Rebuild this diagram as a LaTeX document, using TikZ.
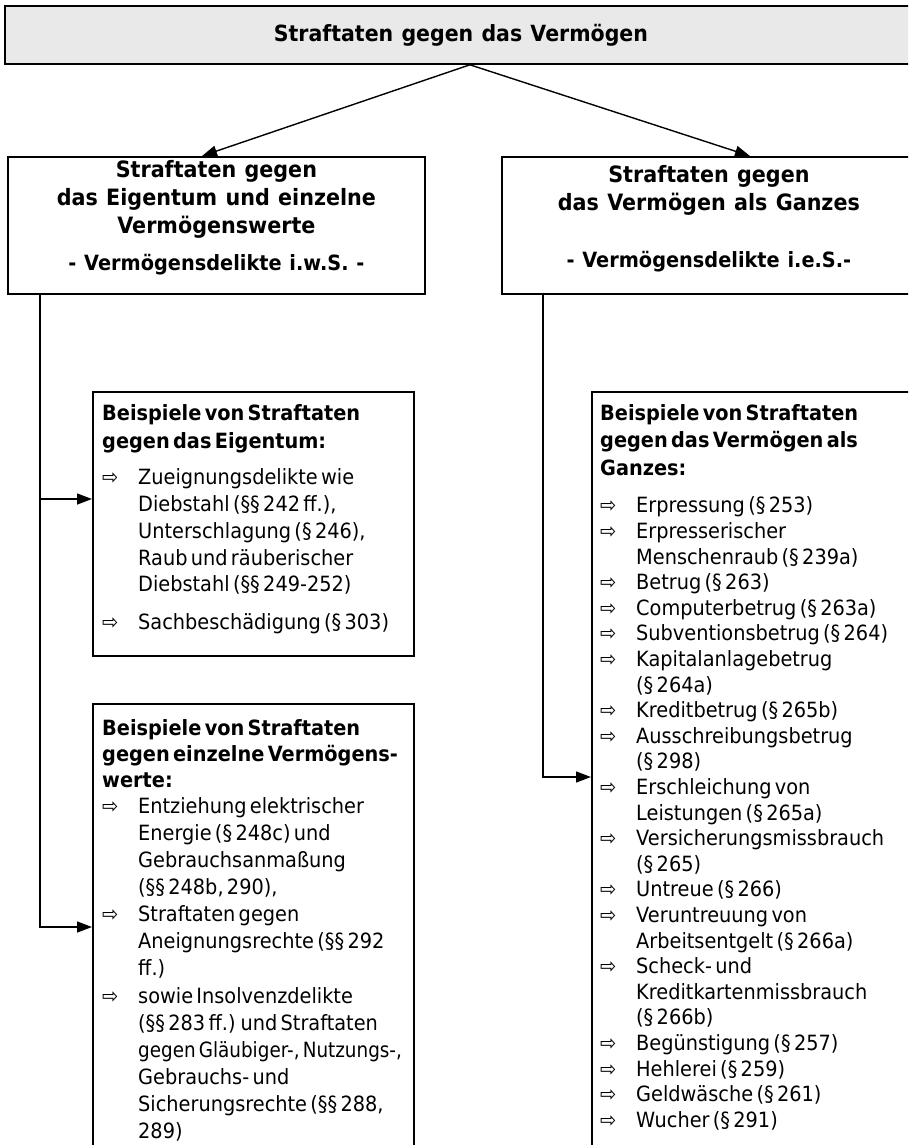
\documentclass[tikz,border=0pt]{standalone}
\usepackage{fontspec}
\setmainfont{DejaVu Sans}[FakeStretch=0.92,WordSpace=1.15]
\usepackage{graphicx}
\usepackage{tikz}
\usetikzlibrary{calc,positioning,arrows.meta}

\definecolor{titlegray}{RGB}{233,233,233}

% list item with the outlined arrow and a hanging indent
\newcommand{\itm}[1]{\par\noindent\hangindent=36pt\hangafter=1%
  \makebox[36pt][l]{\fontsize{21}{21}\selectfont ⇨}#1}
\newcommand{\exhead}[1]{{\bfseries\rule{0pt}{16pt}#1\par}}
\newcommand{\subline}[1]{{\fontsize{21}{28}\selectfont #1}}

\begin{document}
\begin{tikzpicture}[x=1pt,y=-1pt,
  box/.style={draw,line width=1.8pt,anchor=north west,inner sep=0pt},
  cattext/.style={inner sep=0pt,align=center,font=\bfseries\fontsize{22.5}{28}\selectfont},
  extext/.style={inner sep=0pt,anchor=north west,text width=340pt},
  conn/.style={line width=1.4pt,-{Triangle[length=15pt,width=11pt]}}]
  \useasboundingbox (0,0) rectangle (908,1145);
  \clip (0,0) rectangle (908,1145);

  % boxes
  \node[box,fill=titlegray,minimum width=912pt,minimum height=58pt,
    font=\bfseries\fontsize{22.3}{25}\selectfont] (top) at (4,5) {Straftaten gegen das Vermögen};
  \node[box,minimum width=417pt,minimum height=137pt] (catl) at (7,156) {};
  \node[box,minimum width=414pt,minimum height=137pt] (catr) at (501,156) {};
  \node[box,minimum width=321pt,minimum height=264pt] (exa) at (92,391) {};
  \node[box,minimum width=321pt,minimum height=480pt] (exb) at (92,703) {};
  \node[box,minimum width=324pt,minimum height=800pt] (exc) at (591,391) {};

  % texts
  \node[cattext,below=4pt of catl.north] (catltxt) {\rule{0pt}{17pt}Straftaten gegen\\das Eigentum und einzelne\\Vermögenswerte\\[9pt]\subline{- Vermögensdelikte i.w.S. -}};
  \node[cattext,below=9pt of catr.north] (catrtxt) {\rule{0pt}{17pt}Straftaten gegen\\das Vermögen als Ganzes\\[29pt]\subline{- Vermögensdelikte i.e.S.-}};

  \node[extext,below right=13pt and 10pt of exa.north west] (exatxt) {%
    \fontsize{21}{28}\selectfont
    \exhead{Beispiele von Straftaten\newline gegen das Eigentum:}
    \vspace{10pt}\fontsize{21}{26.75}\selectfont
    \itm{Zueignungsdelikte wie\newline Diebstahl (§§ 242 ff.),\newline Unterschlagung (§ 246),\newline Raub und räuberischer\newline Diebstahl (§§ 249-252)}\par
    \vspace{11pt}
    \itm{Sachbeschädigung (§ 303)}\par};

  \node[extext,below right=16pt and 10pt of exb.north west] (exbtxt) {%
    \fontsize{21}{26}\selectfont
    \exhead{Beispiele von Straftaten\newline gegen einzelne Vermögens-\newline werte:}
    \vspace{-1pt}\fontsize{21}{27.1}\selectfont
    \itm{Entziehung elektrischer\newline Energie (§ 248c) und\newline Gebrauchsanmaßung\newline (§§ 248b, 290),}
    \itm{Straftaten gegen\newline Aneignungsrechte (§§ 292\newline ff.)}
    \itm{sowie Insolvenzdelikte\newline (§§ 283 ff.) und Straftaten\newline \scalebox{0.95}[1]{gegen Gläubiger-, Nutzungs-,}\newline Gebrauchs- und\newline Sicherungsrechte (§§ 288,\newline 289)}\par};

  \node[extext,below right=13pt and 9pt of exc.north west] (exctxt) {%
    \fontsize{21}{27.5}\selectfont
    \exhead{Beispiele von Straftaten\newline gegen das Vermögen als\newline Ganzes:}
    \vspace{12pt}\fontsize{21}{25.6}\selectfont
    \itm{Erpressung (§ 253)}
    \itm{Erpresserischer\newline Menschenraub (§ 239a)}
    \itm{Betrug (§ 263)}
    \itm{Computerbetrug (§ 263a)}
    \itm{Subventionsbetrug (§ 264)}
    \itm{Kapitalanlagebetrug\newline (§ 264a)}
    \itm{Kreditbetrug (§ 265b)}
    \itm{Ausschreibungsbetrug\newline (§ 298)}
    \itm{Erschleichung von\newline Leistungen (§ 265a)}
    \itm{Versicherungsmissbrauch\newline (§ 265)}
    \itm{Untreue (§ 266)}
    \itm{Veruntreuung von\newline Arbeitsentgelt (§ 266a)}
    \itm{Scheck- und\newline Kreditkartenmissbrauch\newline (§ 266b)}
    \itm{Begünstigung (§ 257)}
    \itm{Hehlerei (§ 259)}
    \itm{Geldwäsche (§ 261)}
    \itm{Wucher (§ 291)}\par};

  % connectors
  \draw[conn] ($(top.south)+(9,0)$) -- ($(catl.north west)+(195,0)$);
  \draw[conn] ($(top.south)+(9,0)$) -- ($(catr.north west)+(249,0)$);
  \coordinate (ltrunk) at ($(catl.south west)+(33,0)$);
  \draw[conn] (ltrunk) |- ($(exa.north west)+(0,108)$);
  \draw[conn] (ltrunk) |- ($(exb.north west)+(0,224)$);
  \draw[conn] ($(catr.south west)+(42,0)$) |- ($(exc.north west)+(0,386)$);
\end{tikzpicture}
\end{document}
